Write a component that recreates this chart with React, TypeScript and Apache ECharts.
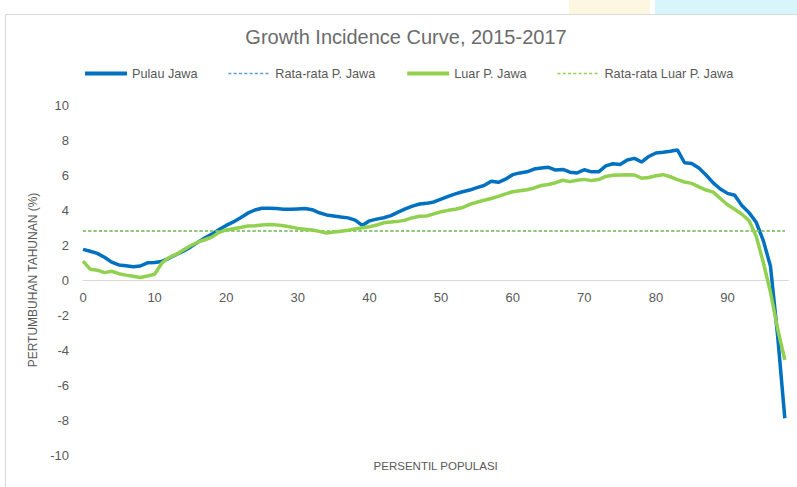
import React, { useEffect, useRef } from "react";
import * as echarts from "echarts";

const TITLE = "Growth Incidence Curve, 2015-2017";
const SERIES_NAMES = ["Pulau Jawa", "Rata-rata P. Jawa", "Luar P. Jawa", "Rata-rata Luar P. Jawa"];
const X_NAME = "PERSENTIL POPULASI";
const Y_NAME = "PERTUMBUHAN TAHUNAN (%)";

// percentile categories 0..98
const PERCENTILES = Array.from({ length: 99 }, (_, i) => i);

const JAWA = [
  1.75, 1.64, 1.52, 1.30, 1.02, 0.86, 0.82, 0.76, 0.80, 0.98,
  1.00, 1.06, 1.24, 1.45, 1.65, 1.88, 2.15, 2.40, 2.62, 2.88,
  3.12, 3.32, 3.56, 3.82, 4.00, 4.10, 4.10, 4.08, 4.04, 4.04,
  4.06, 4.08, 4.02, 3.84, 3.72, 3.66, 3.60, 3.55, 3.42, 3.12,
  3.38, 3.48, 3.56, 3.68, 3.88, 4.06, 4.22, 4.34, 4.38, 4.46,
  4.62, 4.78, 4.92, 5.04, 5.14, 5.28, 5.40, 5.64, 5.58, 5.76,
  6.02, 6.12, 6.18, 6.34, 6.40, 6.44, 6.28, 6.32, 6.16, 6.12,
  6.30, 6.18, 6.18, 6.52, 6.64, 6.60, 6.86, 6.95, 6.74, 7.06,
  7.26, 7.30, 7.36, 7.43, 6.70, 6.66, 6.40, 6.00, 5.55, 5.20,
  4.95, 4.84, 4.26, 3.85, 3.30, 2.25, 0.78, -3.20, -7.90,
];

const LUAR = [
  1.08, 0.62, 0.56, 0.42, 0.50, 0.36, 0.28, 0.21, 0.14, 0.23,
  0.33, 0.96, 1.28, 1.46, 1.72, 1.96, 2.16, 2.30, 2.45, 2.72,
  2.86, 2.93, 3.00, 3.09, 3.10, 3.14, 3.17, 3.15, 3.10, 3.03,
  2.95, 2.90, 2.86, 2.78, 2.68, 2.74, 2.79, 2.84, 2.92, 2.98,
  3.04, 3.14, 3.27, 3.32, 3.35, 3.42, 3.56, 3.64, 3.66, 3.78,
  3.90, 3.98, 4.04, 4.14, 4.32, 4.44, 4.56, 4.66, 4.78, 4.92,
  5.04, 5.10, 5.16, 5.26, 5.40, 5.46, 5.56, 5.70, 5.62, 5.70,
  5.75, 5.68, 5.74, 5.92, 5.98, 6.00, 6.02, 6.00, 5.82, 5.86,
  5.96, 6.02, 5.90, 5.74, 5.60, 5.52, 5.32, 5.14, 5.02, 4.66,
  4.30, 4.04, 3.76, 3.40, 2.50, 1.00, -0.70, -2.80, -4.57,
];

const AVG_JAWA = 2.8;
const AVG_LUAR = 2.8;
const AVG_RANGE = [0, 98];

const FONT = "'Liberation Sans', Arial, sans-serif";
const BLUE = "#0070c0";
const BLUE_DASH = "#5b9bd5";
const GREEN = "#92d050";
const GRAY_TEXT = "#595959";

export default function App() {
  const ref = useRef<HTMLDivElement>(null);

  useEffect(() => {
    if (!ref.current) return;
    const chart = echarts.init(ref.current, null, { renderer: "svg" });
    const pairs = (vals: number[]) => PERCENTILES.map((p, i) => [p, vals[i]]);
    const avgPairs = (v: number) => AVG_RANGE.map((p) => [p, v]);
    const hiddenDot = { color: "transparent", borderWidth: 0, opacity: 0 };

    chart.setOption({
      animation: false,
      backgroundColor: "#ffffff",
      title: {
        text: TITLE,
        left: 406,
        top: 27,
        textAlign: "center",
        padding: 0,
        textStyle: { fontFamily: FONT, fontSize: 20, fontWeight: "normal", color: "#6b6b6b" },
      },
      legend: {
        left: 83,
        top: 67,
        padding: 0,
        itemWidth: 42,
        itemHeight: 14,
        itemGap: 30,
        textStyle: { fontFamily: FONT, fontSize: 12.7, color: GRAY_TEXT },
        itemStyle: hiddenDot,
        data: [
          { name: SERIES_NAMES[0], lineStyle: { width: 4 }, itemStyle: hiddenDot },
          { name: SERIES_NAMES[1], lineStyle: { width: 1.5 }, itemStyle: hiddenDot },
          { name: SERIES_NAMES[2], lineStyle: { width: 4 }, itemStyle: hiddenDot },
          { name: SERIES_NAMES[3], lineStyle: { width: 1.5 }, itemStyle: hiddenDot },
        ],
      },
      grid: {
        left: 83,
        right: 8.6,
        top: 105,
        bottom: 32,
        containLabel: false,
        outerBoundsMode: "none",
      },
      graphic: [
        { type: "rect", shape: { x: 569, y: 0, width: 81, height: 14 }, style: { fill: "#fdf7e1" }, silent: true },
        { type: "rect", shape: { x: 655, y: 0, width: 142, height: 14 }, style: { fill: "#d9f5fc" }, silent: true },
        {
          type: "rect",
          shape: { x: 5.5, y: 14.5, width: 800, height: 480 },
          style: { fill: "none", stroke: "#d9d9d9", lineWidth: 1 },
          silent: true,
        },
      ],
      xAxis: {
        type: "value",
        min: 0,
        max: 98.5,
        interval: 10,
        offset: -175,
        axisLine: { onZero: false, lineStyle: { color: "#d9d9d9", width: 1 } },
        axisTick: { show: false },
        splitLine: { show: false },
        axisLabel: { margin: 11, fontSize: 13, color: GRAY_TEXT, fontFamily: FONT, showMaxLabel: false },
        name: X_NAME,
        nameLocation: "middle",
        nameGap: 180,
        nameMoveOverlap: false,
        nameTextStyle: { fontFamily: FONT, fontSize: 11.5, color: GRAY_TEXT },
      },
      yAxis: {
        type: "value",
        min: -10,
        max: 10,
        interval: 2,
        axisLine: { show: false },
        axisTick: { show: false },
        splitLine: { show: false },
        axisLabel: { margin: 14, fontSize: 13, color: GRAY_TEXT, fontFamily: FONT },
        name: Y_NAME,
        nameLocation: "middle",
        nameRotate: 90,
        nameGap: 35,
        nameTextStyle: { fontFamily: FONT, fontSize: 12, color: GRAY_TEXT },
      },
      series: [
        {
          name: SERIES_NAMES[0],
          type: "line",
          data: pairs(JAWA),
          showSymbol: false,
          symbol: "none",
          lineStyle: { color: BLUE, width: 3.5 },
          itemStyle: { color: BLUE },
        },
        {
          name: SERIES_NAMES[1],
          type: "line",
          data: avgPairs(AVG_JAWA),
          showSymbol: false,
          symbol: "none",
          lineStyle: { color: BLUE_DASH, width: 1.5, type: [3, 2.3] },
          itemStyle: { color: BLUE_DASH },
        },
        {
          name: SERIES_NAMES[2],
          type: "line",
          data: pairs(LUAR),
          showSymbol: false,
          symbol: "none",
          lineStyle: { color: GREEN, width: 3.5 },
          itemStyle: { color: GREEN },
        },
        {
          name: SERIES_NAMES[3],
          type: "line",
          data: avgPairs(AVG_LUAR),
          showSymbol: false,
          symbol: "none",
          lineStyle: { color: GREEN, width: 1.5, type: [3, 2.3] },
          itemStyle: { color: GREEN },
        },
      ],
    });

    return () => chart.dispose();
  }, []);

  return (
    <div
      ref={ref}
      style={{ position: "absolute", left: 0, top: 0, width: 797, height: 487 }}
    />
  );
}
